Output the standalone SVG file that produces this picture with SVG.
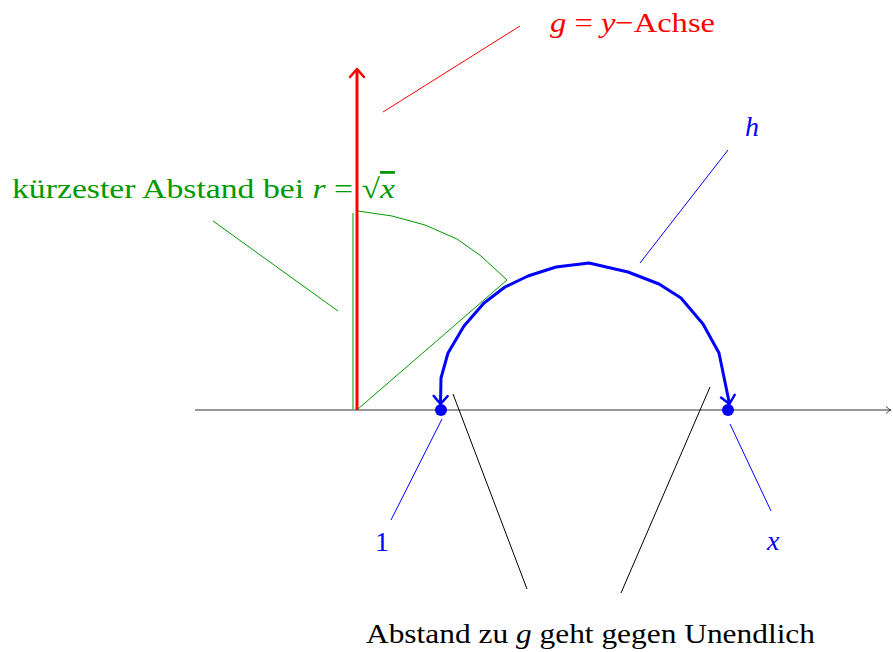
<svg xmlns="http://www.w3.org/2000/svg" width="893" height="652" viewBox="0 0 893 652">
<style>
text{font-family:"Liberation Serif","DejaVu Serif",serif}
.red{fill:#ff0000}.grn{fill:#009900}.blu{fill:#0000ff}.blk{fill:#000}
.m{font-style:italic}
</style>
<defs>
<marker id="ar" viewBox="-10 -10 20 20" markerWidth="20" markerHeight="20" refX="0" refY="0" orient="auto-start-reverse" markerUnits="userSpaceOnUse">
<path d="M-8,-7 L0,0 L-8,7" fill="none" stroke="#ff0000" stroke-width="2.5" stroke-linecap="round" stroke-linejoin="round"/>
</marker>
<marker id="ab" viewBox="-10 -10 20 20" markerWidth="20" markerHeight="20" refX="0" refY="0" orient="auto-start-reverse" markerUnits="userSpaceOnUse">
<path d="M-8,-7 L0,0 L-8,7" fill="none" stroke="#0000ff" stroke-width="2.5" stroke-linecap="round" stroke-linejoin="round"/>
</marker>
<marker id="ak" viewBox="-10 -10 20 20" markerWidth="20" markerHeight="20" refX="0" refY="0" orient="auto" markerUnits="userSpaceOnUse">
<path d="M-5,-3.5 Q-2,-0.5 0,0 Q-2,0.5 -5,3.5" fill="none" stroke="#333" stroke-width="0.9"/>
</marker>
</defs>
<g id="connectors" fill="none">
<line x1="195" y1="410" x2="891" y2="410" stroke="#333" stroke-width="1.1" marker-end="url(#ak)"/>
<line x1="357" y1="410" x2="357" y2="69" stroke="#ff0000" stroke-width="3" marker-end="url(#ar)"/>
<line x1="383" y1="112" x2="520" y2="26" stroke="#ff0000" stroke-width="1"/>
<line x1="213" y1="221" x2="338" y2="311" stroke="#009900" stroke-width="1"/>
<line x1="353" y1="213" x2="353" y2="409" stroke="#009900" stroke-width="1"/>
<polyline points="358,211 392,216 425,225 457,239 481,256 507,280 358,409" stroke="#009900" stroke-width="1"/>
<path d="M440.5,404 L441,378 L448,353 L464,326 L484,303 L505,287 L528,276 L556,267 L589,263 L628,272 L659,284 L681,298 L703,324 L719,353 L729.5,404" stroke="#0000ff" stroke-width="3" stroke-linejoin="round" marker-start="url(#ab)" marker-end="url(#ab)"/>
<line x1="640" y1="263" x2="728" y2="150" stroke="#0000ff" stroke-width="1"/>
<line x1="442" y1="419" x2="391" y2="520" stroke="#0000ff" stroke-width="1"/>
<line x1="730" y1="424" x2="771" y2="511" stroke="#0000ff" stroke-width="1"/>
<line x1="453" y1="394" x2="527" y2="589" stroke="#000" stroke-width="1"/>
<line x1="710" y1="387" x2="621" y2="593" stroke="#000" stroke-width="1"/>
</g>
<g id="p1"><circle cx="441" cy="410" r="6" fill="#0000ff"/></g>
<g id="px"><circle cx="728" cy="410" r="6" fill="#0000ff"/></g>
<g id="label-g"><text class="red" x="550" y="32" font-size="28" textLength="165" lengthAdjust="spacingAndGlyphs"><tspan class="m">g</tspan> = <tspan class="m">y</tspan>−Achse</text></g>
<g id="label-kurz"><text class="grn" x="12" y="198" font-size="28" textLength="383" lengthAdjust="spacingAndGlyphs">kürzester Abstand bei <tspan class="m">r</tspan> = √<tspan class="m" style="text-decoration:overline">x</tspan></text></g>
<g id="label-h"><text class="blu m" x="745" y="136" font-size="28">h</text></g>
<g id="label-1"><text class="blu" x="375" y="551" font-size="28">1</text></g>
<g id="label-x"><text class="blu m" x="767" y="550" font-size="28">x</text></g>
<g id="label-abstand"><text class="blk" x="366" y="643" font-size="28" textLength="449" lengthAdjust="spacingAndGlyphs">Abstand zu <tspan class="m">g</tspan> geht gegen Unendlich</text></g>
</svg>
